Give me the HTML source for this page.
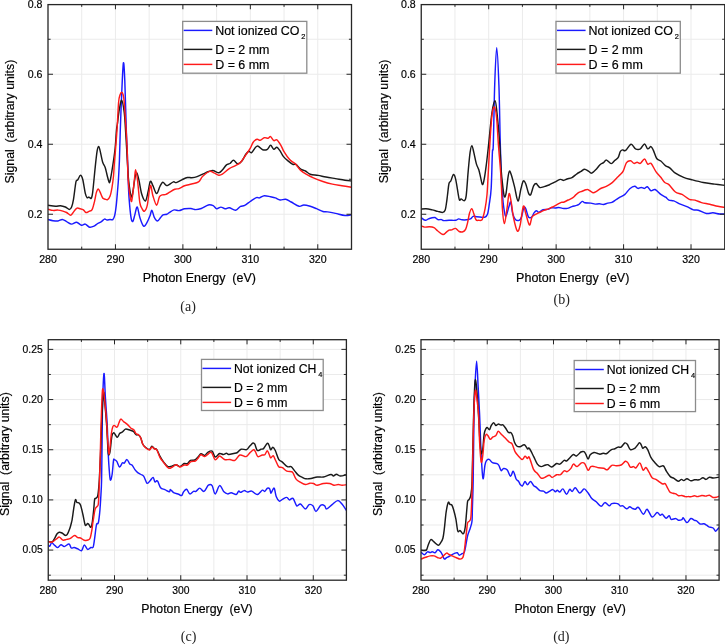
<!DOCTYPE html>
<html><head><meta charset="utf-8"><style>
html,body{margin:0;padding:0;background:#fff;width:725px;height:644px;overflow:hidden}
svg{display:block;will-change:transform}
text{font-family:"Liberation Sans",sans-serif;fill:#000;stroke:#000;stroke-width:0.18px}
.tk{font-size:10.6px}
.ti{font-size:12.5px}
.lg{font-size:12.5px}
.sb{font-size:7.4px}
.cap{font-family:"Liberation Serif",serif;font-size:14px;fill:#222;stroke:none}
</style></head><body>
<svg width="725" height="644" viewBox="0 0 725 644"><defs><clipPath id="clipa"><rect x="48.0" y="4.25" width="303.5" height="245.0"/></clipPath><clipPath id="clipb"><rect x="421.25" y="4.25" width="303.5" height="245.0"/></clipPath><clipPath id="clipc"><rect x="48.25" y="339.35" width="298.15" height="240.85000000000002"/></clipPath><clipPath id="clipd"><rect x="421.0" y="339.35" width="298.1" height="240.85000000000002"/></clipPath></defs>
<path d="M81.72 4.25V249.25M115.44 4.25V249.25M149.17 4.25V249.25M182.89 4.25V249.25M216.61 4.25V249.25M250.33 4.25V249.25M284.06 4.25V249.25M317.78 4.25V249.25M48.00 214.25H351.50M48.00 144.25H351.50M48.00 74.25H351.50M48.00 179.25H351.50M48.00 109.25H351.50M48.00 39.25H351.50" stroke="#ebebeb" stroke-width="1" fill="none"/>
<path d="M48.00 219.50C48.83 219.70 51.33 220.45 53.00 220.70C54.67 220.95 56.45 221.20 58.00 221.00C59.55 220.80 60.87 219.40 62.30 219.50C63.73 219.60 65.05 220.83 66.60 221.60C68.15 222.37 69.93 224.00 71.60 224.10C73.27 224.20 74.95 222.00 76.60 222.20C78.25 222.40 80.05 224.98 81.50 225.30C82.95 225.62 83.95 223.78 85.30 224.10C86.65 224.42 88.15 226.85 89.60 227.20C91.05 227.55 92.65 226.82 94.00 226.20C95.35 225.58 96.47 224.27 97.70 223.50C98.93 222.73 100.27 222.33 101.40 221.60C102.53 220.87 103.57 219.37 104.50 219.10C105.43 218.83 106.07 219.93 107.00 220.00C107.93 220.07 109.13 219.57 110.10 219.50C111.07 219.43 112.03 220.28 112.80 219.60C113.57 218.92 114.12 217.87 114.70 215.40C115.28 212.93 115.82 209.03 116.30 204.80C116.78 200.57 117.25 194.13 117.60 190.00C117.95 185.87 118.10 184.83 118.40 180.00C118.70 175.17 119.08 169.33 119.40 161.00C119.72 152.67 119.92 141.25 120.30 130.00C120.68 118.75 121.18 104.67 121.70 93.50C122.22 82.33 122.88 65.08 123.40 63.00C123.92 60.92 124.32 69.83 124.80 81.00C125.28 92.17 125.90 118.50 126.30 130.00C126.70 141.50 126.88 141.67 127.20 150.00C127.52 158.33 127.88 171.90 128.20 180.00C128.52 188.10 128.63 192.38 129.10 198.60C129.57 204.82 130.38 213.48 131.00 217.30C131.62 221.12 132.18 221.82 132.80 221.50C133.42 221.18 133.97 217.82 134.70 215.40C135.43 212.98 136.35 206.68 137.20 207.00C138.05 207.32 138.73 214.12 139.80 217.30C140.87 220.48 142.35 225.33 143.60 226.10C144.85 226.87 146.22 223.68 147.30 221.90C148.38 220.12 149.33 217.33 150.10 215.40C150.87 213.47 151.20 209.98 151.90 210.30C152.60 210.62 153.37 215.52 154.30 217.30C155.23 219.08 156.42 221.00 157.50 221.00C158.58 221.00 159.87 218.32 160.80 217.30C161.73 216.28 162.10 215.40 163.10 214.90C164.10 214.40 165.78 214.67 166.80 214.30C167.82 213.93 167.98 213.43 169.20 212.70C170.42 211.97 172.47 210.25 174.10 209.90C175.73 209.55 177.25 210.78 179.00 210.60C180.75 210.42 182.62 209.15 184.60 208.80C186.58 208.45 189.05 208.37 190.90 208.50C192.75 208.63 193.97 209.60 195.70 209.60C197.43 209.60 199.20 209.27 201.30 208.50C203.40 207.73 206.32 205.47 208.30 205.00C210.28 204.53 211.80 205.07 213.20 205.70C214.60 206.33 215.42 208.57 216.70 208.80C217.98 209.03 219.50 207.10 220.90 207.10C222.30 207.10 223.70 208.68 225.10 208.80C226.50 208.92 227.55 207.57 229.30 207.80C231.05 208.03 233.73 210.43 235.60 210.20C237.47 209.97 238.98 207.20 240.50 206.40C242.02 205.60 243.08 206.22 244.70 205.40C246.32 204.58 248.27 202.80 250.20 201.50C252.13 200.20 254.75 198.20 256.30 197.60C257.85 197.00 258.17 198.22 259.50 197.90C260.83 197.58 262.45 195.88 264.30 195.70C266.15 195.52 268.77 196.43 270.60 196.80C272.43 197.17 273.72 197.37 275.30 197.90C276.88 198.43 278.38 199.78 280.10 200.00C281.82 200.22 283.75 198.87 285.60 199.20C287.45 199.53 288.95 200.82 291.20 202.00C293.45 203.18 297.00 205.80 299.10 206.30C301.20 206.80 301.95 205.00 303.80 205.00C305.65 205.00 308.08 205.68 310.20 206.30C312.32 206.92 314.38 207.83 316.50 208.70C318.62 209.57 321.05 210.97 322.90 211.50C324.75 212.03 325.50 211.58 327.60 211.90C329.70 212.22 332.60 212.80 335.50 213.40C338.40 214.00 342.33 215.28 345.00 215.50C347.67 215.72 350.42 214.83 351.50 214.70" stroke="#1a1aff" stroke-width="1.45" fill="none" stroke-linejoin="round" clip-path="url(#clipa)"/>
<path d="M48.00 205.30C49.25 205.47 53.43 206.23 55.50 206.30C57.57 206.37 58.75 205.58 60.40 205.70C62.05 205.82 63.90 206.38 65.40 207.00C66.90 207.62 68.37 209.40 69.40 209.40C70.43 209.40 70.92 208.68 71.60 207.00C72.28 205.32 72.88 202.80 73.50 199.30C74.12 195.80 74.85 189.05 75.30 186.00C75.75 182.95 75.78 182.05 76.20 181.00C76.62 179.95 77.08 180.65 77.80 179.70C78.52 178.75 79.67 175.30 80.50 175.30C81.33 175.30 82.00 176.68 82.80 179.70C83.60 182.72 84.58 190.40 85.30 193.40C86.02 196.40 86.48 197.08 87.10 197.70C87.72 198.32 88.32 197.00 89.00 197.10C89.68 197.20 90.58 199.13 91.20 198.30C91.82 197.47 92.03 197.27 92.70 192.10C93.37 186.93 94.47 174.13 95.20 167.30C95.93 160.47 96.52 154.57 97.10 151.10C97.68 147.63 98.18 146.50 98.70 146.50C99.22 146.50 99.53 148.47 100.20 151.10C100.87 153.73 101.88 159.60 102.70 162.30C103.52 165.00 104.38 165.23 105.10 167.30C105.82 169.37 106.37 172.32 107.00 174.70C107.63 177.08 108.38 180.57 108.90 181.60C109.42 182.63 109.45 183.60 110.10 180.90C110.75 178.20 111.97 170.78 112.80 165.40C113.63 160.02 114.48 154.50 115.10 148.60C115.72 142.70 116.12 134.10 116.50 130.00C116.88 125.90 116.93 127.40 117.40 124.00C117.87 120.60 118.58 113.55 119.30 109.60C120.02 105.65 120.88 99.88 121.70 100.30C122.52 100.72 123.57 107.23 124.20 112.10C124.83 116.97 125.00 121.85 125.50 129.50C126.00 137.15 126.68 149.58 127.20 158.00C127.72 166.42 127.90 173.53 128.60 180.00C129.30 186.47 130.62 195.25 131.40 196.80C132.18 198.35 132.77 192.10 133.30 189.30C133.83 186.50 134.05 182.82 134.60 180.00C135.15 177.18 135.88 172.40 136.60 172.40C137.32 172.40 138.05 176.40 138.90 180.00C139.75 183.60 140.62 190.50 141.70 194.00C142.78 197.50 144.32 201.47 145.40 201.00C146.48 200.53 147.38 194.47 148.20 191.20C149.02 187.93 149.52 182.33 150.30 181.40C151.08 180.47 151.85 183.58 152.90 185.60C153.95 187.62 155.43 193.35 156.60 193.50C157.77 193.65 158.88 188.37 159.90 186.50C160.92 184.63 161.70 182.53 162.70 182.30C163.70 182.07 165.05 184.58 165.90 185.10C166.75 185.62 166.55 185.93 167.80 185.40C169.05 184.87 172.00 182.37 173.40 181.90C174.80 181.43 174.80 182.95 176.20 182.60C177.60 182.25 179.93 180.65 181.80 179.80C183.67 178.95 185.77 177.85 187.40 177.50C189.03 177.15 189.98 177.85 191.60 177.70C193.22 177.55 194.78 177.42 197.10 176.60C199.42 175.78 202.93 173.82 205.50 172.80C208.07 171.78 210.28 170.50 212.50 170.50C214.72 170.50 217.17 172.88 218.80 172.80C220.43 172.72 221.02 171.32 222.30 170.00C223.58 168.68 225.22 165.98 226.50 164.90C227.78 163.82 228.83 164.27 230.00 163.50C231.17 162.73 232.22 160.25 233.50 160.30C234.78 160.35 236.30 163.68 237.70 163.80C239.10 163.92 240.52 162.63 241.90 161.00C243.28 159.37 244.85 155.63 246.00 154.00C247.15 152.37 247.87 151.43 248.80 151.20C249.73 150.97 250.22 153.45 251.60 152.60C252.98 151.75 255.25 146.57 257.10 146.10C258.95 145.63 260.98 149.27 262.70 149.80C264.42 150.33 266.08 150.05 267.40 149.30C268.72 148.55 269.53 145.30 270.60 145.30C271.67 145.30 272.75 148.98 273.80 149.30C274.85 149.62 275.85 146.93 276.90 147.20C277.95 147.47 279.03 149.37 280.10 150.90C281.17 152.43 281.98 154.73 283.30 156.40C284.62 158.07 286.42 159.58 288.00 160.90C289.58 162.22 291.48 163.73 292.80 164.30C294.12 164.87 294.58 163.50 295.90 164.30C297.22 165.10 299.12 167.98 300.70 169.10C302.28 170.22 303.82 170.15 305.40 171.00C306.98 171.85 308.08 173.47 310.20 174.20C312.32 174.93 315.47 174.93 318.10 175.40C320.73 175.87 323.10 176.47 326.00 177.00C328.90 177.53 332.33 178.07 335.50 178.60C338.67 179.13 342.33 179.80 345.00 180.20C347.67 180.60 350.42 180.87 351.50 181.00" stroke="#1a1a1a" stroke-width="1.45" fill="none" stroke-linejoin="round" clip-path="url(#clipa)"/>
<path d="M48.00 209.20C48.83 209.40 51.33 210.25 53.00 210.40C54.67 210.55 56.35 209.98 58.00 210.10C59.65 210.22 61.47 210.70 62.90 211.10C64.33 211.50 65.32 211.82 66.60 212.50C67.88 213.18 69.57 215.13 70.60 215.20C71.63 215.27 71.80 214.05 72.80 212.90C73.80 211.75 75.35 208.98 76.60 208.30C77.85 207.62 79.17 208.55 80.30 208.80C81.43 209.05 82.47 209.18 83.40 209.80C84.33 210.42 84.97 212.25 85.90 212.50C86.83 212.75 87.97 211.78 89.00 211.30C90.03 210.82 91.17 211.30 92.10 209.60C93.03 207.90 93.88 203.97 94.60 201.10C95.32 198.23 95.78 194.43 96.40 192.40C97.02 190.37 97.67 188.90 98.30 188.90C98.93 188.90 99.47 190.88 100.20 192.40C100.93 193.92 101.88 196.87 102.70 198.00C103.52 199.13 104.28 198.93 105.10 199.20C105.92 199.47 106.77 200.12 107.60 199.60C108.43 199.08 109.37 198.12 110.10 196.10C110.83 194.08 111.43 190.85 112.00 187.50C112.57 184.15 113.13 179.68 113.50 176.00C113.87 172.32 113.93 168.93 114.20 165.40C114.47 161.87 114.63 160.70 115.10 154.80C115.57 148.90 116.42 138.77 117.00 130.00C117.58 121.23 118.10 108.03 118.60 102.20C119.10 96.37 119.48 96.67 120.00 95.00C120.52 93.33 121.17 92.20 121.70 92.20C122.23 92.20 122.78 93.33 123.20 95.00C123.62 96.67 123.72 96.45 124.20 102.20C124.68 107.95 125.60 121.53 126.10 129.50C126.60 137.47 126.85 141.58 127.20 150.00C127.55 158.42 127.57 171.58 128.20 180.00C128.83 188.42 130.30 197.70 131.00 200.50C131.70 203.30 131.83 200.22 132.40 196.80C132.97 193.38 133.87 184.53 134.40 180.00C134.93 175.47 135.08 169.60 135.60 169.60C136.12 169.60 136.80 174.53 137.50 180.00C138.20 185.47 139.05 197.65 139.80 202.40C140.55 207.15 141.22 207.03 142.00 208.50C142.78 209.97 143.62 211.75 144.50 211.20C145.38 210.65 146.33 209.47 147.30 205.20C148.27 200.93 149.37 187.17 150.30 185.60C151.23 184.03 151.85 192.53 152.90 195.80C153.95 199.07 155.52 205.03 156.60 205.20C157.68 205.37 158.47 198.52 159.40 196.80C160.33 195.08 161.12 195.30 162.20 194.90C163.28 194.50 164.73 194.82 165.90 194.40C167.07 193.98 167.72 193.27 169.20 192.40C170.68 191.53 173.17 189.83 174.80 189.20C176.43 188.57 177.37 189.17 179.00 188.60C180.63 188.03 182.50 186.57 184.60 185.80C186.70 185.03 189.28 184.65 191.60 184.00C193.92 183.35 196.65 183.18 198.50 181.90C200.35 180.62 200.83 178.05 202.70 176.30C204.57 174.55 207.83 171.98 209.70 171.40C211.57 170.82 212.38 172.17 213.90 172.80C215.42 173.43 217.40 174.97 218.80 175.20C220.20 175.43 220.55 175.30 222.30 174.20C224.05 173.10 227.20 169.98 229.30 168.60C231.40 167.22 233.03 166.93 234.90 165.90C236.77 164.87 238.65 164.27 240.50 162.40C242.35 160.53 244.38 157.03 246.00 154.70C247.62 152.37 249.00 150.48 250.20 148.40C251.40 146.32 252.05 143.72 253.20 142.20C254.35 140.68 255.92 139.62 257.10 139.30C258.28 138.98 259.10 140.57 260.30 140.30C261.50 140.03 262.98 138.05 264.30 137.70C265.62 137.35 267.15 138.38 268.20 138.20C269.25 138.02 269.67 136.20 270.60 136.60C271.53 137.00 272.75 140.07 273.80 140.60C274.85 141.13 275.72 139.02 276.90 139.80C278.08 140.58 279.72 143.32 280.90 145.30C282.08 147.28 282.55 149.32 284.00 151.70C285.45 154.08 287.75 157.62 289.60 159.60C291.45 161.58 293.25 161.80 295.10 163.60C296.95 165.40 298.72 168.57 300.70 170.40C302.68 172.23 304.88 173.37 307.00 174.60C309.12 175.83 310.75 176.65 313.40 177.80C316.05 178.95 319.73 180.45 322.90 181.50C326.07 182.55 329.23 183.40 332.40 184.10C335.57 184.80 338.72 185.17 341.90 185.70C345.08 186.23 349.90 187.03 351.50 187.30" stroke="#ff1a1a" stroke-width="1.45" fill="none" stroke-linejoin="round" clip-path="url(#clipa)"/>
<path d="M81.72 249.25v-2.6M81.72 4.25v2.6M115.44 249.25v-5M115.44 4.25v5M149.17 249.25v-2.6M149.17 4.25v2.6M182.89 249.25v-5M182.89 4.25v5M216.61 249.25v-2.6M216.61 4.25v2.6M250.33 249.25v-5M250.33 4.25v5M284.06 249.25v-2.6M284.06 4.25v2.6M317.78 249.25v-5M317.78 4.25v5M48.00 214.25h5M351.50 214.25h-5M48.00 144.25h5M351.50 144.25h-5M48.00 74.25h5M351.50 74.25h-5M48.00 179.25h2.6M351.50 179.25h-2.6M48.00 109.25h2.6M351.50 109.25h-2.6M48.00 39.25h2.6M351.50 39.25h-2.6" stroke="#262626" stroke-width="1" fill="none"/>
<rect x="48.00" y="4.60" width="303.50" height="244.65" stroke="#262626" stroke-width="1.3" fill="none"/>
<text class="tk" style="font-size:10.6px" x="48.00" y="262.85" text-anchor="middle">280</text>
<text class="tk" style="font-size:10.6px" x="115.44" y="262.85" text-anchor="middle">290</text>
<text class="tk" style="font-size:10.6px" x="182.89" y="262.85" text-anchor="middle">300</text>
<text class="tk" style="font-size:10.6px" x="250.33" y="262.85" text-anchor="middle">310</text>
<text class="tk" style="font-size:10.6px" x="317.78" y="262.85" text-anchor="middle">320</text>
<text class="tk" style="font-size:10.6px" x="42.50" y="217.85" text-anchor="end">0.2</text>
<text class="tk" style="font-size:10.6px" x="42.50" y="147.85" text-anchor="end">0.4</text>
<text class="tk" style="font-size:10.6px" x="42.50" y="77.85" text-anchor="end">0.6</text>
<text class="tk" style="font-size:10.6px" x="42.50" y="7.85" text-anchor="end">0.8</text>
<text class="ti" style="font-size:12.5px" x="142.70" y="282.20" xml:space="preserve">Photon Energy  (eV)</text>
<text class="ti" style="font-size:12.3px" transform="translate(14.40 121.60) rotate(-90)" text-anchor="middle" xml:space="preserve">Signal  (arbitrary units)</text>
<text class="cap" x="188.10" y="310.80" text-anchor="middle">(a)</text>
<rect x="182.70" y="21.40" width="124.10" height="51.80" fill="#fff" stroke="#8c8c8c" stroke-width="1.3"/>
<path d="M183.70 30.40H212.30" stroke="#1a1aff" stroke-width="1.45"/>
<text class="lg" style="font-size:12.45px" x="215.20" y="34.60">Not ionized CO<tspan class="sb" dx="1.8" dy="4">2</tspan></text>
<path d="M183.70 49.40H212.30" stroke="#1a1a1a" stroke-width="1.45"/>
<text class="lg" style="font-size:12.45px" x="215.20" y="53.60">D = 2 mm</text>
<path d="M183.70 64.40H212.30" stroke="#ff1a1a" stroke-width="1.45"/>
<text class="lg" style="font-size:12.45px" x="215.20" y="68.60">D = 6 mm</text>
<path d="M454.97 4.25V249.25M488.69 4.25V249.25M522.42 4.25V249.25M556.14 4.25V249.25M589.86 4.25V249.25M623.58 4.25V249.25M657.31 4.25V249.25M691.03 4.25V249.25M421.25 214.25H724.75M421.25 144.25H724.75M421.25 74.25H724.75M421.25 179.25H724.75M421.25 109.25H724.75M421.25 39.25H724.75" stroke="#ebebeb" stroke-width="1" fill="none"/>
<path d="M421.00 217.50C421.70 217.97 423.95 220.07 425.20 220.30C426.45 220.53 427.48 219.28 428.50 218.90C429.52 218.52 430.22 218.23 431.30 218.00C432.38 217.77 433.92 217.23 435.00 217.50C436.08 217.77 436.72 219.25 437.80 219.60C438.88 219.95 440.50 219.43 441.50 219.60C442.50 219.77 442.55 220.48 443.80 220.60C445.05 220.72 447.05 220.35 449.00 220.30C450.95 220.25 453.88 220.53 455.50 220.30C457.12 220.07 457.62 218.98 458.70 218.90C459.78 218.82 460.67 219.65 462.00 219.80C463.33 219.95 465.30 219.95 466.70 219.80C468.10 219.65 469.32 219.47 470.40 218.90C471.48 218.33 472.12 216.75 473.20 216.40C474.28 216.05 475.77 216.70 476.90 216.80C478.03 216.90 478.70 216.93 480.00 217.00C481.30 217.07 483.45 217.67 484.70 217.20C485.95 216.73 486.73 216.40 487.50 214.20C488.27 212.00 488.68 208.37 489.30 204.00C489.92 199.63 490.68 196.60 491.20 188.00C491.72 179.40 492.05 159.63 492.40 152.40C492.75 145.17 492.92 155.83 493.30 144.60C493.68 133.37 494.13 101.15 494.70 85.00C495.27 68.85 496.00 47.70 496.70 47.70C497.40 47.70 498.30 68.85 498.90 85.00C499.50 101.15 499.88 128.77 500.30 144.60C500.72 160.43 501.05 171.93 501.40 180.00C501.75 188.07 502.08 189.00 502.40 193.00C502.72 197.00 502.83 200.30 503.30 204.00C503.77 207.70 504.65 213.42 505.20 215.20C505.75 216.98 505.98 216.10 506.60 214.70C507.22 213.30 508.20 208.90 508.90 206.80C509.60 204.70 510.18 201.02 510.80 202.10C511.42 203.18 511.83 210.42 512.60 213.30C513.37 216.18 514.32 218.23 515.40 219.40C516.48 220.57 518.08 220.70 519.10 220.30C520.12 219.90 520.72 219.10 521.50 217.00C522.28 214.90 523.10 209.10 523.80 207.70C524.50 206.30 524.92 207.05 525.70 208.60C526.48 210.15 527.50 215.60 528.50 217.00C529.50 218.40 530.75 217.73 531.70 217.00C532.65 216.27 533.40 213.63 534.20 212.60C535.00 211.57 535.72 210.87 536.50 210.80C537.28 210.73 537.82 212.37 538.90 212.20C539.98 212.03 541.53 210.27 543.00 209.80C544.47 209.33 546.30 209.73 547.70 209.40C549.10 209.07 550.15 208.03 551.40 207.80C552.65 207.57 553.95 208.05 555.20 208.00C556.45 207.95 557.67 207.43 558.90 207.50C560.13 207.57 561.20 208.25 562.60 208.40C564.00 208.55 565.75 208.70 567.30 208.40C568.85 208.10 570.50 207.07 571.90 206.60C573.30 206.13 574.60 205.92 575.70 205.60C576.80 205.28 577.42 205.40 578.50 204.70C579.58 204.00 581.12 201.72 582.20 201.40C583.28 201.08 583.55 202.52 585.00 202.80C586.45 203.08 589.22 202.88 590.90 203.10C592.58 203.32 593.70 203.98 595.10 204.10C596.50 204.22 597.90 203.73 599.30 203.80C600.70 203.87 602.10 204.62 603.50 204.50C604.90 204.38 606.30 203.45 607.70 203.10C609.10 202.75 610.50 202.97 611.90 202.40C613.30 201.83 614.75 200.57 616.10 199.70C617.45 198.83 618.53 198.08 620.00 197.20C621.47 196.32 623.27 195.82 624.90 194.40C626.53 192.98 628.17 190.05 629.80 188.70C631.43 187.35 633.35 186.35 634.70 186.30C636.05 186.25 636.82 188.22 637.90 188.40C638.98 188.58 640.10 187.40 641.20 187.40C642.30 187.40 643.47 188.52 644.50 188.40C645.53 188.28 646.32 186.32 647.40 186.70C648.48 187.08 649.72 190.23 651.00 190.70C652.28 191.17 653.47 188.88 655.10 189.50C656.73 190.12 659.03 193.12 660.80 194.40C662.57 195.68 664.35 196.25 665.70 197.20C667.05 198.15 667.55 199.48 668.90 200.10C670.25 200.72 671.90 200.22 673.80 200.90C675.70 201.58 678.12 203.25 680.30 204.20C682.48 205.15 684.72 205.65 686.90 206.60C689.08 207.55 691.50 209.30 693.40 209.90C695.30 210.50 696.13 209.60 698.30 210.20C700.47 210.80 703.97 213.07 706.40 213.50C708.83 213.93 710.72 212.72 712.90 212.80C715.08 212.88 717.48 213.80 719.50 214.00C721.52 214.20 724.08 214.00 725.00 214.00" stroke="#1a1aff" stroke-width="1.45" fill="none" stroke-linejoin="round" clip-path="url(#clipb)"/>
<path d="M421.00 209.20C421.83 209.13 424.13 208.68 426.00 208.80C427.87 208.92 430.23 209.47 432.20 209.90C434.17 210.33 436.03 210.98 437.80 211.40C439.57 211.82 441.57 212.63 442.80 212.40C444.03 212.17 444.57 211.72 445.20 210.00C445.83 208.28 446.22 204.60 446.60 202.10C446.98 199.60 447.10 198.10 447.50 195.00C447.90 191.90 448.45 185.83 449.00 183.50C449.55 181.17 450.05 182.50 450.80 181.00C451.55 179.50 452.67 174.70 453.50 174.50C454.33 174.30 455.00 176.43 455.80 179.80C456.60 183.17 457.68 191.30 458.30 194.70C458.92 198.10 459.03 199.50 459.50 200.20C459.97 200.90 460.30 198.83 461.10 198.90C461.90 198.97 463.45 201.15 464.30 200.60C465.15 200.05 465.55 200.52 466.20 195.60C466.85 190.68 467.55 178.30 468.20 171.10C468.85 163.90 469.48 156.65 470.10 152.40C470.72 148.15 471.28 145.60 471.90 145.60C472.52 145.60 473.07 149.40 473.80 152.40C474.53 155.40 475.47 160.70 476.30 163.60C477.13 166.50 478.08 167.52 478.80 169.80C479.52 172.08 480.00 174.83 480.60 177.30C481.20 179.77 481.80 184.30 482.40 184.60C483.00 184.90 483.52 182.65 484.20 179.10C484.88 175.55 485.77 169.05 486.50 163.30C487.23 157.55 487.70 152.98 488.60 144.60C489.50 136.22 490.83 120.30 491.90 113.00C492.97 105.70 494.15 100.80 495.00 100.80C495.85 100.80 496.20 105.70 497.00 113.00C497.80 120.30 499.13 135.43 499.80 144.60C500.47 153.77 500.50 161.00 501.00 168.00C501.50 175.00 502.23 181.82 502.80 186.60C503.37 191.38 503.85 195.62 504.40 196.70C504.95 197.78 505.50 196.33 506.10 193.10C506.70 189.87 507.45 180.95 508.00 177.30C508.55 173.65 508.87 171.67 509.40 171.20C509.93 170.73 510.35 171.93 511.20 174.50C512.05 177.07 513.37 182.18 514.50 186.60C515.63 191.02 516.92 200.68 518.00 201.00C519.08 201.32 520.12 191.83 521.00 188.50C521.88 185.17 522.52 181.78 523.30 181.00C524.08 180.22 524.83 181.78 525.70 183.80C526.57 185.82 527.70 191.23 528.50 193.10C529.30 194.97 529.93 195.32 530.50 195.00C531.07 194.68 531.37 192.77 531.90 191.20C532.43 189.63 533.00 186.88 533.70 185.60C534.40 184.32 535.40 183.50 536.10 183.50C536.80 183.50 537.22 184.92 537.90 185.60C538.58 186.28 539.05 187.47 540.20 187.60C541.35 187.73 543.33 186.83 544.80 186.40C546.27 185.97 547.37 185.70 549.00 185.00C550.63 184.30 552.73 183.13 554.60 182.20C556.47 181.27 558.70 179.70 560.20 179.40C561.70 179.10 562.45 180.47 563.60 180.40C564.75 180.33 565.70 179.47 567.10 179.00C568.50 178.53 570.37 178.47 572.00 177.60C573.63 176.73 575.38 174.83 576.90 173.80C578.42 172.77 579.82 172.17 581.10 171.40C582.38 170.63 583.32 169.20 584.60 169.20C585.88 169.20 587.63 170.75 588.80 171.40C589.97 172.05 590.32 173.52 591.60 173.10C592.88 172.68 595.10 170.30 596.50 168.90C597.90 167.50 598.83 165.75 600.00 164.70C601.17 163.65 602.42 163.37 603.50 162.60C604.58 161.83 605.22 159.93 606.50 160.10C607.78 160.27 609.83 163.53 611.20 163.60C612.57 163.67 613.55 161.48 614.70 160.50C615.85 159.52 617.17 159.20 618.10 157.70C619.03 156.20 619.58 152.80 620.30 151.50C621.02 150.20 621.50 150.08 622.40 149.90C623.30 149.72 624.25 151.33 625.70 150.40C627.15 149.47 629.47 144.57 631.10 144.30C632.73 144.03 633.95 148.05 635.50 148.80C637.05 149.55 638.90 149.62 640.40 148.80C641.90 147.98 643.28 143.90 644.50 143.90C645.72 143.90 646.62 148.35 647.70 148.80C648.78 149.25 650.05 146.33 651.00 146.60C651.95 146.87 652.45 148.42 653.40 150.40C654.35 152.38 655.47 156.73 656.70 158.50C657.93 160.27 659.30 159.77 660.80 161.00C662.30 162.23 664.22 164.77 665.70 165.90C667.18 167.03 668.08 166.58 669.70 167.80C671.32 169.02 673.08 171.62 675.40 173.20C677.72 174.78 680.88 176.22 683.60 177.30C686.32 178.38 688.43 178.83 691.70 179.70C694.97 180.57 699.38 181.77 703.20 182.50C707.02 183.23 711.00 183.62 714.60 184.10C718.20 184.58 723.10 185.18 724.80 185.40" stroke="#1a1a1a" stroke-width="1.45" fill="none" stroke-linejoin="round" clip-path="url(#clipb)"/>
<path d="M421.00 225.90C421.62 226.10 423.30 226.95 424.70 227.10C426.10 227.25 427.85 226.70 429.40 226.80C430.95 226.90 432.60 227.00 434.00 227.70C435.40 228.40 436.32 229.87 437.80 231.00C439.28 232.13 441.50 234.27 442.90 234.50C444.30 234.73 445.18 233.13 446.20 232.40C447.22 231.67 448.07 230.52 449.00 230.10C449.93 229.68 450.72 230.18 451.80 229.90C452.88 229.62 454.27 228.13 455.50 228.40C456.73 228.67 457.97 230.93 459.20 231.50C460.43 232.07 461.82 232.20 462.90 231.80C463.98 231.40 464.92 230.63 465.70 229.10C466.48 227.57 466.97 225.23 467.60 222.60C468.23 219.97 468.80 215.63 469.50 213.30C470.20 210.97 471.10 208.60 471.80 208.60C472.50 208.60 473.00 211.43 473.70 213.30C474.40 215.17 475.15 218.63 476.00 219.80C476.85 220.97 477.88 220.23 478.80 220.30C479.72 220.37 480.83 220.58 481.50 220.20C482.17 219.82 482.20 219.93 482.80 218.00C483.40 216.07 484.40 212.48 485.10 208.60C485.80 204.72 486.50 200.13 487.00 194.70C487.50 189.27 487.63 184.35 488.10 176.00C488.57 167.65 489.17 154.63 489.80 144.60C490.43 134.57 491.13 122.08 491.90 115.80C492.67 109.52 493.62 106.60 494.40 106.90C495.18 107.20 495.93 111.32 496.60 117.60C497.27 123.88 497.67 134.65 498.40 144.60C499.13 154.55 500.33 166.63 501.00 177.30C501.67 187.97 501.83 200.88 502.40 208.60C502.97 216.32 503.63 223.60 504.40 223.60C505.17 223.60 506.22 213.58 507.00 208.60C507.78 203.62 508.40 194.78 509.10 193.70C509.80 192.62 510.45 198.05 511.20 202.10C511.95 206.15 512.58 213.18 513.60 218.00C514.62 222.82 516.22 229.77 517.30 231.00C518.38 232.23 519.10 229.52 520.10 225.40C521.10 221.28 522.37 208.32 523.30 206.30C524.23 204.28 524.68 210.20 525.70 213.30C526.72 216.40 528.37 224.23 529.40 224.90C530.43 225.57 531.18 218.88 531.90 217.30C532.62 215.72 532.47 216.18 533.70 215.40C534.93 214.62 537.58 213.45 539.30 212.60C541.02 211.75 542.45 210.92 544.00 210.30C545.55 209.68 547.20 209.45 548.60 208.90C550.00 208.35 551.00 207.70 552.40 207.00C553.80 206.30 555.53 205.47 557.00 204.70C558.47 203.93 560.10 202.82 561.20 202.40C562.30 201.98 562.43 202.60 563.60 202.20C564.77 201.80 566.65 200.75 568.20 200.00C569.75 199.25 571.65 198.55 572.90 197.70C574.15 196.85 574.77 195.75 575.70 194.90C576.63 194.05 577.42 193.22 578.50 192.60C579.58 191.98 580.97 191.67 582.20 191.20C583.43 190.73 584.92 190.07 585.90 189.80C586.88 189.53 586.92 189.12 588.10 189.60C589.28 190.08 591.60 192.42 593.00 192.70C594.40 192.98 595.22 192.00 596.50 191.30C597.78 190.60 599.07 189.32 600.70 188.50C602.33 187.68 604.43 187.33 606.30 186.40C608.17 185.47 610.05 184.42 611.90 182.90C613.75 181.38 616.05 178.65 617.40 177.30C618.75 175.95 619.02 175.88 620.00 174.80C620.98 173.72 622.22 172.83 623.30 170.80C624.38 168.77 625.28 164.28 626.50 162.60C627.72 160.92 629.37 160.57 630.60 160.70C631.83 160.83 632.82 163.13 633.90 163.40C634.98 163.67 636.02 162.30 637.10 162.30C638.18 162.30 639.17 163.95 640.40 163.40C641.63 162.85 643.28 158.87 644.50 159.00C645.72 159.13 646.62 163.47 647.70 164.20C648.78 164.93 649.63 162.17 651.00 163.40C652.37 164.63 654.27 169.28 655.90 171.60C657.53 173.92 659.32 175.48 660.80 177.30C662.28 179.12 663.45 181.28 664.80 182.50C666.15 183.72 667.13 183.02 668.90 184.60C670.67 186.18 673.22 190.37 675.40 192.00C677.58 193.63 679.68 193.18 682.00 194.40C684.32 195.62 687.13 198.35 689.30 199.30C691.47 200.25 692.97 199.55 695.00 200.10C697.03 200.65 699.05 201.92 701.50 202.60C703.95 203.28 706.98 203.58 709.70 204.20C712.42 204.82 715.25 205.77 717.80 206.30C720.35 206.83 723.80 207.22 725.00 207.40" stroke="#ff1a1a" stroke-width="1.45" fill="none" stroke-linejoin="round" clip-path="url(#clipb)"/>
<path d="M454.97 249.25v-2.6M454.97 4.25v2.6M488.69 249.25v-5M488.69 4.25v5M522.42 249.25v-2.6M522.42 4.25v2.6M556.14 249.25v-5M556.14 4.25v5M589.86 249.25v-2.6M589.86 4.25v2.6M623.58 249.25v-5M623.58 4.25v5M657.31 249.25v-2.6M657.31 4.25v2.6M691.03 249.25v-5M691.03 4.25v5M421.25 214.25h5M724.75 214.25h-5M421.25 144.25h5M724.75 144.25h-5M421.25 74.25h5M724.75 74.25h-5M421.25 179.25h2.6M724.75 179.25h-2.6M421.25 109.25h2.6M724.75 109.25h-2.6M421.25 39.25h2.6M724.75 39.25h-2.6" stroke="#262626" stroke-width="1" fill="none"/>
<rect x="421.25" y="4.60" width="303.50" height="244.65" stroke="#262626" stroke-width="1.3" fill="none"/>
<text class="tk" style="font-size:10.6px" x="421.25" y="262.85" text-anchor="middle">280</text>
<text class="tk" style="font-size:10.6px" x="488.69" y="262.85" text-anchor="middle">290</text>
<text class="tk" style="font-size:10.6px" x="556.14" y="262.85" text-anchor="middle">300</text>
<text class="tk" style="font-size:10.6px" x="623.58" y="262.85" text-anchor="middle">310</text>
<text class="tk" style="font-size:10.6px" x="691.03" y="262.85" text-anchor="middle">320</text>
<text class="tk" style="font-size:10.6px" x="415.75" y="217.85" text-anchor="end">0.2</text>
<text class="tk" style="font-size:10.6px" x="415.75" y="147.85" text-anchor="end">0.4</text>
<text class="tk" style="font-size:10.6px" x="415.75" y="77.85" text-anchor="end">0.6</text>
<text class="tk" style="font-size:10.6px" x="415.75" y="7.85" text-anchor="end">0.8</text>
<text class="ti" style="font-size:12.5px" x="516.10" y="282.20" xml:space="preserve">Photon Energy  (eV)</text>
<text class="ti" style="font-size:12.3px" transform="translate(387.90 121.45) rotate(-90)" text-anchor="middle" xml:space="preserve">Signal  (arbitrary units)</text>
<text class="cap" x="561.70" y="304.20" text-anchor="middle">(b)</text>
<rect x="556.00" y="21.40" width="124.30" height="51.80" fill="#fff" stroke="#8c8c8c" stroke-width="1.3"/>
<path d="M557.00 30.40H585.60" stroke="#1a1aff" stroke-width="1.45"/>
<text class="lg" style="font-size:12.45px" x="588.50" y="34.60">Not ionized CO<tspan class="sb" dx="1.8" dy="4">2</tspan></text>
<path d="M557.00 49.40H585.60" stroke="#1a1a1a" stroke-width="1.45"/>
<text class="lg" style="font-size:12.45px" x="588.50" y="53.60">D = 2 mm</text>
<path d="M557.00 64.40H585.60" stroke="#ff1a1a" stroke-width="1.45"/>
<text class="lg" style="font-size:12.45px" x="588.50" y="68.60">D = 6 mm</text>
<path d="M81.38 339.35V580.20M114.51 339.35V580.20M147.63 339.35V580.20M180.76 339.35V580.20M213.89 339.35V580.20M247.02 339.35V580.20M280.14 339.35V580.20M313.27 339.35V580.20M48.25 550.09H346.40M48.25 499.92H346.40M48.25 449.74H346.40M48.25 399.56H346.40M48.25 349.39H346.40M48.25 575.18H346.40M48.25 525.01H346.40M48.25 474.83H346.40M48.25 424.65H346.40M48.25 374.47H346.40" stroke="#ebebeb" stroke-width="1" fill="none"/>
<path d="M48.00 545.00C48.32 545.18 49.28 546.47 49.90 546.10C50.52 545.73 50.85 542.88 51.70 542.80C52.55 542.72 53.98 544.82 55.00 545.60C56.02 546.38 56.80 547.65 57.80 547.50C58.80 547.35 59.92 544.85 61.00 544.70C62.08 544.55 62.97 546.72 64.30 546.60C65.63 546.48 67.83 543.77 69.00 544.00C70.17 544.23 70.45 547.42 71.30 548.00C72.15 548.58 73.02 547.35 74.10 547.50C75.18 547.65 76.55 548.38 77.80 548.90C79.05 549.42 80.52 551.25 81.60 550.60C82.68 549.95 83.30 545.20 84.30 545.00C85.30 544.80 86.50 548.98 87.60 549.40C88.70 549.82 89.97 547.90 90.90 547.50C91.83 547.10 92.58 548.48 93.20 547.00C93.82 545.52 94.05 542.32 94.60 538.60C95.15 534.88 95.88 527.32 96.50 524.70C97.12 522.08 97.77 524.92 98.30 522.90C98.83 520.88 99.30 516.65 99.70 512.60C100.10 508.55 100.38 504.03 100.70 498.60C101.02 493.17 101.37 489.77 101.60 480.00C101.83 470.23 101.93 452.95 102.10 440.00C102.27 427.05 102.28 413.40 102.60 402.30C102.92 391.20 103.53 374.18 104.00 373.40C104.47 372.62 104.87 389.07 105.40 397.60C105.93 406.13 106.72 415.03 107.20 424.60C107.68 434.17 107.95 447.30 108.30 455.00C108.65 462.70 108.95 466.62 109.30 470.80C109.65 474.98 109.93 479.48 110.40 480.10C110.87 480.72 111.58 477.77 112.10 474.50C112.62 471.23 113.12 462.98 113.50 460.50C113.88 458.02 113.85 459.45 114.40 459.60C114.95 459.75 115.93 460.17 116.80 461.40C117.67 462.63 118.67 466.77 119.60 467.00C120.53 467.23 121.63 463.45 122.40 462.80C123.17 462.15 123.43 463.63 124.20 463.10C124.97 462.57 126.07 459.45 127.00 459.60C127.93 459.75 128.93 463.07 129.80 464.00C130.67 464.93 131.35 464.27 132.20 465.20C133.05 466.13 133.98 468.37 134.90 469.60C135.82 470.83 136.68 471.78 137.70 472.60C138.72 473.42 139.98 473.88 141.00 474.50C142.02 475.12 142.78 474.83 143.80 476.30C144.82 477.77 146.02 482.60 147.10 483.30C148.18 484.00 149.30 481.48 150.30 480.50C151.30 479.52 152.32 477.17 153.10 477.40C153.88 477.63 154.27 481.32 155.00 481.90C155.73 482.48 156.57 479.93 157.50 480.90C158.43 481.87 159.37 486.25 160.60 487.70C161.83 489.15 163.45 488.92 164.90 489.60C166.35 490.28 168.37 491.80 169.30 491.80C170.23 491.80 169.78 489.45 170.50 489.60C171.22 489.75 172.25 491.92 173.60 492.70C174.95 493.48 177.25 493.83 178.60 494.30C179.95 494.77 180.88 495.88 181.70 495.50C182.52 495.12 182.68 493.03 183.50 492.00C184.32 490.97 185.55 488.98 186.60 489.30C187.65 489.62 188.65 493.55 189.80 493.90C190.95 494.25 192.47 491.82 193.50 491.40C194.53 490.98 194.97 491.95 196.00 491.40C197.03 490.85 198.37 488.10 199.70 488.10C201.03 488.10 202.55 491.88 204.00 491.40C205.45 490.92 207.05 486.17 208.40 485.20C209.75 484.23 210.97 484.15 212.10 485.60C213.23 487.05 213.95 493.90 215.20 493.90C216.45 493.90 218.15 485.95 219.60 485.60C221.05 485.25 222.57 490.42 223.90 491.80C225.23 493.18 226.38 493.75 227.60 493.90C228.82 494.05 229.77 492.60 231.20 492.70C232.63 492.80 234.95 494.77 236.20 494.50C237.45 494.23 237.98 491.47 238.70 491.10C239.42 490.73 239.57 492.38 240.50 492.30C241.43 492.22 243.15 490.65 244.30 490.60C245.45 490.55 246.17 491.92 247.40 492.00C248.63 492.08 250.05 490.68 251.70 491.10C253.35 491.52 255.53 494.65 257.30 494.50C259.07 494.35 261.05 490.72 262.30 490.20C263.55 489.68 263.93 491.75 264.80 491.40C265.67 491.05 266.68 488.52 267.50 488.10C268.32 487.68 269.12 488.03 269.70 488.90C270.28 489.77 270.48 493.18 271.00 493.30C271.52 493.42 272.23 490.38 272.80 489.60C273.37 488.82 273.83 487.45 274.40 488.60C274.97 489.75 275.38 494.42 276.20 496.50C277.02 498.58 278.27 500.62 279.30 501.10C280.33 501.58 281.15 500.02 282.40 499.40C283.65 498.78 285.65 497.32 286.80 497.40C287.95 497.48 288.27 499.73 289.30 499.90C290.33 500.07 291.77 497.42 293.00 498.40C294.23 499.38 295.47 504.87 296.70 505.80C297.93 506.73 298.95 503.48 300.40 504.00C301.85 504.52 303.95 508.80 305.40 508.90C306.85 509.00 307.85 505.12 309.10 504.60C310.35 504.08 311.75 504.67 312.90 505.80C314.05 506.93 314.67 511.50 316.00 511.40C317.33 511.30 319.45 506.13 320.90 505.20C322.35 504.27 323.77 505.18 324.70 505.80C325.63 506.42 325.27 509.10 326.50 508.90C327.73 508.70 330.23 505.98 332.10 504.60C333.97 503.22 336.05 500.70 337.70 500.60C339.35 500.50 340.55 502.35 342.00 504.00C343.45 505.65 345.67 509.42 346.40 510.50" stroke="#1a1aff" stroke-width="1.45" fill="none" stroke-linejoin="round" clip-path="url(#clipc)"/>
<path d="M48.00 541.40C48.70 541.48 51.12 542.37 52.20 541.90C53.28 541.43 53.72 539.92 54.50 538.60C55.28 537.28 56.12 535.07 56.90 534.00C57.68 532.93 58.35 532.37 59.20 532.20C60.05 532.03 61.00 532.48 62.00 533.00C63.00 533.52 64.35 535.03 65.20 535.30C66.05 535.57 66.33 535.73 67.10 534.60C67.87 533.47 69.05 530.60 69.80 528.50C70.55 526.40 71.20 523.57 71.60 522.00C72.00 520.43 71.78 521.75 72.20 519.10C72.62 516.45 73.55 509.35 74.10 506.10C74.65 502.85 75.03 500.22 75.50 499.60C75.97 498.98 76.35 501.87 76.90 502.40C77.45 502.93 78.18 502.33 78.80 502.80C79.42 503.27 79.92 503.25 80.60 505.20C81.28 507.15 82.17 511.28 82.90 514.50C83.63 517.72 84.45 522.75 85.00 524.50C85.55 526.25 85.77 525.17 86.20 525.00C86.63 524.83 87.13 523.55 87.60 523.50C88.07 523.45 88.45 524.07 89.00 524.70C89.55 525.33 90.35 527.75 90.90 527.30C91.45 526.85 91.83 524.92 92.30 522.00C92.77 519.08 93.32 513.53 93.70 509.80C94.08 506.07 94.30 501.47 94.60 499.60C94.90 497.73 95.03 499.07 95.50 498.60C95.97 498.13 96.93 497.88 97.40 496.80C97.87 495.72 97.98 494.90 98.30 492.10C98.62 489.30 98.93 486.18 99.30 480.00C99.67 473.82 100.08 465.00 100.50 455.00C100.92 445.00 101.30 430.33 101.80 420.00C102.30 409.67 103.02 396.00 103.50 393.00C103.98 390.00 104.18 396.67 104.70 402.00C105.22 407.33 106.05 417.00 106.60 425.00C107.15 433.00 107.67 445.05 108.00 450.00C108.33 454.95 108.27 454.38 108.60 454.70C108.93 455.02 109.45 455.00 110.00 451.90C110.55 448.80 111.27 439.28 111.90 436.10C112.53 432.92 113.18 432.95 113.80 432.80C114.42 432.65 114.98 434.47 115.60 435.20C116.22 435.93 116.80 437.52 117.50 437.20C118.20 436.88 119.02 434.13 119.80 433.30C120.58 432.47 121.27 432.90 122.20 432.20C123.13 431.50 124.25 429.50 125.40 429.10C126.55 428.70 127.78 429.42 129.10 429.80C130.42 430.18 132.13 430.58 133.30 431.40C134.47 432.22 135.23 434.10 136.10 434.70C136.97 435.30 137.72 434.45 138.50 435.00C139.28 435.55 140.10 436.50 140.80 438.00C141.50 439.50 141.88 442.42 142.70 444.00C143.52 445.58 144.58 446.58 145.70 447.50C146.82 448.42 148.37 449.70 149.40 449.50C150.43 449.30 151.08 446.45 151.90 446.30C152.72 446.15 153.48 448.05 154.30 448.60C155.12 449.15 155.87 448.37 156.80 449.60C157.73 450.83 158.75 453.90 159.90 456.00C161.05 458.10 162.35 460.43 163.70 462.20C165.05 463.97 166.67 465.93 168.00 466.60C169.33 467.27 170.35 466.52 171.70 466.20C173.05 465.88 174.75 464.63 176.10 464.70C177.45 464.77 178.45 466.80 179.80 466.60C181.15 466.40 182.95 463.98 184.20 463.50C185.45 463.02 186.27 464.22 187.30 463.70C188.33 463.18 189.17 461.02 190.40 460.40C191.63 459.78 193.47 460.52 194.70 460.00C195.93 459.48 196.77 458.33 197.80 457.30C198.83 456.27 199.75 454.12 200.90 453.80C202.05 453.48 203.55 455.65 204.70 455.40C205.85 455.15 206.57 453.02 207.80 452.30C209.03 451.58 210.87 450.32 212.10 451.10C213.33 451.88 213.95 456.60 215.20 457.00C216.45 457.40 218.25 453.92 219.60 453.50C220.95 453.08 222.17 454.53 223.30 454.50C224.43 454.47 225.50 453.30 226.40 453.30C227.30 453.30 227.48 454.47 228.70 454.50C229.92 454.53 232.25 453.83 233.70 453.50C235.15 453.17 236.17 453.22 237.40 452.50C238.63 451.78 239.55 449.68 241.10 449.20C242.65 448.72 245.25 450.12 246.70 449.60C248.15 449.08 248.75 447.20 249.80 446.10C250.85 445.00 252.17 443.32 253.00 443.00C253.83 442.68 254.08 442.97 254.80 444.20C255.52 445.43 256.27 449.57 257.30 450.40C258.33 451.23 259.97 449.50 261.00 449.20C262.03 448.90 262.47 449.57 263.50 448.60C264.53 447.63 266.27 443.92 267.20 443.40C268.13 442.88 268.52 444.43 269.10 445.50C269.68 446.57 270.08 449.50 270.70 449.80C271.32 450.10 272.03 447.18 272.80 447.30C273.57 447.42 274.32 448.50 275.30 450.50C276.28 452.50 277.52 457.37 278.70 459.30C279.88 461.23 280.95 460.87 282.40 462.10C283.85 463.33 285.95 465.93 287.40 466.70C288.85 467.47 289.87 465.97 291.10 466.70C292.33 467.43 293.55 469.65 294.80 471.10C296.05 472.55 297.35 474.37 298.60 475.40C299.85 476.43 301.07 476.73 302.30 477.30C303.53 477.87 304.55 478.60 306.00 478.80C307.45 479.00 309.13 478.80 311.00 478.50C312.87 478.20 315.13 477.25 317.20 477.00C319.27 476.75 321.12 477.42 323.40 477.00C325.68 476.58 329.23 474.67 330.90 474.50C332.57 474.33 332.47 476.05 333.40 476.00C334.33 475.95 335.37 474.20 336.50 474.20C337.63 474.20 338.55 475.90 340.20 476.00C341.85 476.10 345.37 475.00 346.40 474.80" stroke="#1a1a1a" stroke-width="1.45" fill="none" stroke-linejoin="round" clip-path="url(#clipc)"/>
<path d="M48.00 541.60C48.62 541.70 50.62 542.38 51.70 542.20C52.78 542.02 53.63 541.10 54.50 540.50C55.37 539.90 56.08 539.17 56.90 538.60C57.72 538.03 58.40 536.85 59.40 537.10C60.40 537.35 61.70 539.72 62.90 540.10C64.10 540.48 65.35 539.68 66.60 539.40C67.85 539.12 69.07 539.05 70.40 538.40C71.73 537.75 73.37 535.63 74.60 535.50C75.83 535.37 76.80 537.18 77.80 537.60C78.80 538.02 79.52 537.57 80.60 538.00C81.68 538.43 83.05 539.87 84.30 540.20C85.55 540.53 87.12 540.37 88.10 540.00C89.08 539.63 89.58 539.58 90.20 538.00C90.82 536.42 91.38 532.88 91.80 530.50C92.22 528.12 92.38 525.90 92.70 523.70C93.02 521.50 93.30 519.68 93.70 517.30C94.10 514.92 94.57 511.18 95.10 509.40C95.63 507.62 96.37 507.47 96.90 506.60C97.43 505.73 97.93 507.08 98.30 504.20C98.67 501.32 98.87 494.17 99.10 489.30C99.33 484.43 99.48 481.55 99.70 475.00C99.92 468.45 100.15 459.17 100.40 450.00C100.65 440.83 100.83 430.10 101.20 420.00C101.57 409.90 101.98 392.35 102.60 389.40C103.22 386.45 104.20 396.43 104.90 402.30C105.60 408.17 106.42 419.43 106.80 424.60C107.18 429.77 106.88 428.65 107.20 433.30C107.52 437.95 108.30 449.55 108.70 452.50C109.10 455.45 109.15 454.20 109.60 451.00C110.05 447.80 110.87 437.33 111.40 433.30C111.93 429.27 112.33 428.12 112.80 426.80C113.27 425.48 113.50 425.33 114.20 425.40C114.90 425.47 116.22 427.60 117.00 427.20C117.78 426.80 118.27 424.35 118.90 423.00C119.53 421.65 120.02 419.33 120.80 419.10C121.58 418.87 122.52 420.72 123.60 421.60C124.68 422.48 126.07 423.30 127.30 424.40C128.53 425.50 129.92 427.30 131.00 428.20C132.08 429.10 132.95 428.87 133.80 429.80C134.65 430.73 135.32 432.98 136.10 433.80C136.88 434.62 137.72 434.00 138.50 434.70C139.28 435.40 140.10 436.45 140.80 438.00C141.50 439.55 141.95 442.42 142.70 444.00C143.45 445.58 144.18 446.50 145.30 447.50C146.42 448.50 148.30 450.07 149.40 450.00C150.50 449.93 151.08 447.30 151.90 447.10C152.72 446.90 153.48 448.35 154.30 448.80C155.12 449.25 155.87 448.38 156.80 449.80C157.73 451.22 158.75 455.18 159.90 457.30C161.05 459.42 162.25 460.68 163.70 462.50C165.15 464.32 167.15 467.45 168.60 468.20C170.05 468.95 171.15 467.58 172.40 467.00C173.65 466.42 174.87 464.70 176.10 464.70C177.33 464.70 178.45 466.95 179.80 467.00C181.15 467.05 182.95 465.33 184.20 465.00C185.45 464.67 186.17 465.57 187.30 465.00C188.43 464.43 189.67 462.27 191.00 461.60C192.33 460.93 194.17 461.52 195.30 461.00C196.43 460.48 196.87 459.53 197.80 458.50C198.73 457.47 199.75 455.12 200.90 454.80C202.05 454.48 203.45 456.77 204.70 456.60C205.95 456.43 207.27 454.48 208.40 453.80C209.53 453.12 210.37 451.50 211.50 452.50C212.63 453.50 213.85 459.22 215.20 459.80C216.55 460.38 218.05 456.05 219.60 456.00C221.15 455.95 222.77 458.92 224.50 459.50C226.23 460.08 228.27 459.35 230.00 459.50C231.73 459.65 233.25 461.15 234.90 460.40C236.55 459.65 238.03 455.63 239.90 455.00C241.77 454.37 244.45 456.95 246.10 456.60C247.75 456.25 248.55 454.03 249.80 452.90C251.05 451.77 252.67 450.00 253.60 449.80C254.53 449.60 254.68 450.57 255.40 451.70C256.12 452.83 256.75 456.05 257.90 456.60C259.05 457.15 261.15 455.30 262.30 455.00C263.45 454.70 263.98 455.50 264.80 454.80C265.62 454.10 266.48 450.90 267.20 450.80C267.92 450.70 268.52 453.02 269.10 454.20C269.68 455.38 270.02 457.65 270.70 457.90C271.38 458.15 272.38 455.27 273.20 455.70C274.02 456.13 274.68 458.67 275.60 460.50C276.52 462.33 277.57 465.52 278.70 466.70C279.83 467.88 281.05 466.87 282.40 467.60C283.75 468.33 285.25 470.42 286.80 471.10C288.35 471.78 290.62 471.32 291.70 471.70C292.78 472.08 292.57 472.17 293.30 473.40C294.03 474.63 294.92 477.63 296.10 479.10C297.28 480.57 298.85 481.30 300.40 482.20C301.95 483.10 303.83 484.33 305.40 484.50C306.97 484.67 308.45 483.37 309.80 483.20C311.15 483.03 312.27 483.15 313.50 483.50C314.73 483.85 315.55 485.30 317.20 485.30C318.85 485.30 321.33 483.80 323.40 483.50C325.47 483.20 327.83 483.20 329.60 483.50C331.37 483.80 332.55 485.13 334.00 485.30C335.45 485.47 336.97 484.50 338.30 484.50C339.63 484.50 340.65 485.27 342.00 485.30C343.35 485.33 345.67 484.80 346.40 484.70" stroke="#ff1a1a" stroke-width="1.45" fill="none" stroke-linejoin="round" clip-path="url(#clipc)"/>
<path d="M81.38 580.20v-2.6M81.38 339.35v2.6M114.51 580.20v-5M114.51 339.35v5M147.63 580.20v-2.6M147.63 339.35v2.6M180.76 580.20v-5M180.76 339.35v5M213.89 580.20v-2.6M213.89 339.35v2.6M247.02 580.20v-5M247.02 339.35v5M280.14 580.20v-2.6M280.14 339.35v2.6M313.27 580.20v-5M313.27 339.35v5M48.25 550.09h5M346.40 550.09h-5M48.25 499.92h5M346.40 499.92h-5M48.25 449.74h5M346.40 449.74h-5M48.25 399.56h5M346.40 399.56h-5M48.25 349.39h5M346.40 349.39h-5M48.25 575.18h2.6M346.40 575.18h-2.6M48.25 525.01h2.6M346.40 525.01h-2.6M48.25 474.83h2.6M346.40 474.83h-2.6M48.25 424.65h2.6M346.40 424.65h-2.6M48.25 374.47h2.6M346.40 374.47h-2.6" stroke="#262626" stroke-width="1" fill="none"/>
<rect x="48.25" y="339.70" width="298.15" height="240.50" stroke="#262626" stroke-width="1.3" fill="none"/>
<text class="tk" style="font-size:10.35px" x="48.25" y="594.00" text-anchor="middle">280</text>
<text class="tk" style="font-size:10.35px" x="114.51" y="594.00" text-anchor="middle">290</text>
<text class="tk" style="font-size:10.35px" x="180.76" y="594.00" text-anchor="middle">300</text>
<text class="tk" style="font-size:10.35px" x="247.02" y="594.00" text-anchor="middle">310</text>
<text class="tk" style="font-size:10.35px" x="313.27" y="594.00" text-anchor="middle">320</text>
<text class="tk" style="font-size:10.35px" x="42.75" y="553.29" text-anchor="end">0.05</text>
<text class="tk" style="font-size:10.35px" x="42.75" y="503.12" text-anchor="end">0.10</text>
<text class="tk" style="font-size:10.35px" x="42.75" y="452.94" text-anchor="end">0.15</text>
<text class="tk" style="font-size:10.35px" x="42.75" y="402.76" text-anchor="end">0.20</text>
<text class="tk" style="font-size:10.35px" x="42.75" y="352.59" text-anchor="end">0.25</text>
<text class="ti" style="font-size:12.3px" x="141.30" y="612.70" xml:space="preserve">Photon Energy  (eV)</text>
<text class="ti" style="font-size:12.3px" transform="translate(9.30 454.10) rotate(-90)" text-anchor="middle" xml:space="preserve">Signal  (arbitrary units)</text>
<text class="cap" x="188.60" y="640.80" text-anchor="middle">(c)</text>
<rect x="201.50" y="359.40" width="121.70" height="51.10" fill="#fff" stroke="#8c8c8c" stroke-width="1.3"/>
<path d="M202.50 368.40H231.10" stroke="#1a1aff" stroke-width="1.45"/>
<text class="lg" style="font-size:12.25px" x="234.00" y="372.60">Not ionized CH<tspan class="sb" dx="1.8" dy="4">4</tspan></text>
<path d="M202.50 387.40H231.10" stroke="#1a1a1a" stroke-width="1.45"/>
<text class="lg" style="font-size:12.25px" x="234.00" y="391.60">D = 2 mm</text>
<path d="M202.50 402.40H231.10" stroke="#ff1a1a" stroke-width="1.45"/>
<text class="lg" style="font-size:12.25px" x="234.00" y="406.60">D = 6 mm</text>
<path d="M454.12 339.35V580.20M487.24 339.35V580.20M520.37 339.35V580.20M553.49 339.35V580.20M586.61 339.35V580.20M619.73 339.35V580.20M652.86 339.35V580.20M685.98 339.35V580.20M421.00 550.09H719.10M421.00 499.92H719.10M421.00 449.74H719.10M421.00 399.56H719.10M421.00 349.39H719.10M421.00 575.18H719.10M421.00 525.01H719.10M421.00 474.83H719.10M421.00 424.65H719.10M421.00 374.47H719.10" stroke="#ebebeb" stroke-width="1" fill="none"/>
<path d="M421.00 552.20C421.55 552.62 423.22 554.75 424.30 554.70C425.38 554.65 426.50 552.25 427.50 551.90C428.50 551.55 429.52 552.63 430.30 552.60C431.08 552.57 431.42 551.67 432.20 551.70C432.98 551.73 434.07 553.12 435.00 552.80C435.93 552.48 436.87 549.98 437.80 549.80C438.73 549.62 439.83 550.85 440.60 551.70C441.37 552.55 441.78 553.68 442.40 554.90C443.02 556.12 443.60 558.53 444.30 559.00C445.00 559.47 445.82 558.12 446.60 557.70C447.38 557.28 448.13 556.97 449.00 556.50C449.87 556.03 450.87 555.42 451.80 554.90C452.73 554.38 453.68 553.75 454.60 553.40C455.52 553.05 456.53 552.50 457.30 552.80C458.07 553.10 458.42 555.05 459.20 555.20C459.98 555.35 461.15 554.20 462.00 553.70C462.85 553.20 463.68 553.47 464.30 552.20C464.92 550.93 465.15 548.83 465.70 546.10C466.25 543.37 466.90 538.60 467.60 535.80C468.30 533.00 469.28 531.15 469.90 529.30C470.52 527.45 470.93 526.25 471.30 524.70C471.67 523.15 471.92 522.78 472.10 520.00C472.28 517.22 472.22 514.67 472.40 508.00C472.58 501.33 472.93 495.57 473.20 480.00C473.47 464.43 473.72 430.00 474.00 414.60C474.28 399.20 474.47 396.52 474.90 387.60C475.33 378.68 476.05 361.10 476.60 361.10C477.15 361.10 477.70 378.68 478.20 387.60C478.70 396.52 479.10 403.37 479.60 414.60C480.10 425.83 480.63 444.33 481.20 455.00C481.77 465.67 482.38 476.85 483.00 478.60C483.62 480.35 484.35 468.47 484.90 465.50C485.45 462.53 485.60 461.82 486.30 460.80C487.00 459.78 488.08 459.08 489.10 459.40C490.12 459.72 491.08 462.00 492.40 462.70C493.72 463.40 495.92 463.13 497.00 463.60C498.08 464.07 498.20 464.33 498.90 465.50C499.60 466.67 500.42 470.10 501.20 470.60C501.98 471.10 502.58 468.60 503.60 468.50C504.62 468.40 506.15 468.72 507.30 470.00C508.45 471.28 509.50 475.98 510.50 476.20C511.50 476.42 512.37 470.83 513.30 471.30C514.23 471.77 515.23 477.35 516.10 479.00C516.97 480.65 517.80 480.28 518.50 481.20C519.20 482.12 519.63 483.73 520.30 484.50C520.97 485.27 521.72 486.30 522.50 485.80C523.28 485.30 524.17 481.67 525.00 481.50C525.83 481.33 526.57 484.80 527.50 484.80C528.43 484.80 529.57 481.33 530.60 481.50C531.63 481.67 532.78 484.87 533.70 485.80C534.62 486.73 535.07 486.30 536.10 487.10C537.13 487.90 538.65 489.93 539.90 490.60C541.15 491.27 542.57 490.70 543.60 491.10C544.63 491.50 545.07 493.00 546.10 493.00C547.13 493.00 548.67 491.67 549.80 491.10C550.93 490.53 551.97 489.48 552.90 489.60C553.83 489.72 554.67 491.70 555.40 491.80C556.13 491.90 556.57 490.17 557.30 490.20C558.03 490.23 558.87 492.22 559.80 492.00C560.73 491.78 561.77 488.52 562.90 488.90C564.03 489.28 565.47 494.23 566.60 494.30C567.73 494.37 568.77 489.78 569.70 489.30C570.63 488.82 571.27 491.67 572.20 491.40C573.13 491.13 574.07 487.43 575.30 487.70C576.53 487.97 578.15 492.80 579.60 493.00C581.05 493.20 582.85 489.23 584.00 488.90C585.15 488.57 585.75 490.23 586.50 491.00C587.25 491.77 587.62 492.23 588.50 493.50C589.38 494.77 590.52 497.23 591.80 498.60C593.08 499.97 594.65 500.42 596.20 501.70C597.75 502.98 599.65 506.15 601.10 506.30C602.55 506.45 603.55 502.68 604.90 502.60C606.25 502.52 608.07 505.63 609.20 505.80C610.33 505.97 610.55 504.00 611.70 503.60C612.85 503.20 614.97 503.30 616.10 503.40C617.23 503.50 617.78 503.75 618.50 504.20C619.22 504.65 619.67 505.83 620.40 506.10C621.13 506.37 621.87 505.35 622.90 505.80C623.93 506.25 625.47 508.65 626.60 508.80C627.73 508.95 628.77 506.78 629.70 506.70C630.63 506.62 631.27 507.88 632.20 508.30C633.13 508.72 634.27 509.37 635.30 509.20C636.33 509.03 637.05 506.47 638.40 507.30C639.75 508.13 641.95 513.88 643.40 514.20C644.85 514.52 645.65 508.73 647.10 509.20C648.55 509.67 650.45 516.45 652.10 517.00C653.75 517.55 655.65 512.80 657.00 512.50C658.35 512.20 659.32 514.92 660.20 515.20C661.08 515.48 661.32 513.70 662.30 514.20C663.28 514.70 664.93 517.95 666.10 518.20C667.27 518.45 668.45 515.50 669.30 515.70C670.15 515.90 670.12 518.92 671.20 519.40C672.28 519.88 674.57 518.45 675.80 518.60C677.03 518.75 677.58 520.13 678.60 520.30C679.62 520.47 681.12 520.00 681.90 519.60C682.68 519.20 682.45 517.40 683.30 517.90C684.15 518.40 685.75 522.50 687.00 522.60C688.25 522.70 689.55 518.88 690.80 518.50C692.05 518.12 693.50 519.88 694.50 520.30C695.50 520.72 695.87 520.38 696.80 521.00C697.73 521.62 698.93 523.53 700.10 524.00C701.27 524.47 702.72 523.60 703.80 523.80C704.88 524.00 705.75 524.70 706.60 525.20C707.45 525.70 707.82 526.33 708.90 526.80C709.98 527.27 711.97 527.27 713.10 528.00C714.23 528.73 714.92 531.05 715.70 531.20C716.48 531.35 717.23 529.52 717.80 528.90C718.37 528.28 718.88 527.73 719.10 527.50" stroke="#1a1aff" stroke-width="1.45" fill="none" stroke-linejoin="round" clip-path="url(#clipd)"/>
<path d="M421.00 550.30C421.62 550.35 423.77 550.68 424.70 550.60C425.63 550.52 425.97 550.87 426.60 549.80C427.23 548.73 427.80 545.90 428.50 544.20C429.20 542.50 429.88 539.98 430.80 539.60C431.72 539.22 432.77 540.97 434.00 541.90C435.23 542.83 437.10 545.05 438.20 545.20C439.30 545.35 439.82 543.97 440.60 542.80C441.38 541.63 442.28 540.50 442.90 538.20C443.52 535.90 443.75 533.42 444.30 529.00C444.85 524.58 445.53 516.13 446.20 511.70C446.87 507.27 447.68 503.62 448.30 502.40C448.92 501.18 449.32 503.97 449.90 504.40C450.48 504.83 451.18 504.10 451.80 505.00C452.42 505.90 452.92 507.45 453.60 509.80C454.28 512.15 455.20 515.57 455.90 519.10C456.60 522.63 457.10 529.08 457.80 531.00C458.50 532.92 459.32 530.18 460.10 530.60C460.88 531.02 461.87 533.10 462.50 533.50C463.13 533.90 463.43 534.15 463.90 533.00C464.37 531.85 464.83 530.30 465.30 526.60C465.77 522.90 466.32 515.00 466.70 510.80C467.08 506.60 467.22 503.27 467.60 501.40C467.98 499.53 468.53 500.37 469.00 499.60C469.47 498.83 470.02 498.20 470.40 496.80C470.78 495.40 471.02 494.00 471.30 491.20C471.58 488.40 471.73 491.87 472.10 480.00C472.47 468.13 472.98 436.63 473.50 420.00C474.02 403.37 474.50 383.27 475.20 380.20C475.90 377.13 476.90 391.25 477.70 401.60C478.50 411.95 479.38 433.65 480.00 442.30C480.62 450.95 480.93 452.42 481.40 453.50C481.87 454.58 482.33 452.07 482.80 448.80C483.27 445.53 483.65 437.32 484.20 433.90C484.75 430.48 485.55 429.35 486.10 428.30C486.65 427.25 486.95 427.37 487.50 427.60C488.05 427.83 488.78 430.02 489.40 429.70C490.02 429.38 490.50 426.87 491.20 425.70C491.90 424.53 492.82 422.73 493.60 422.70C494.38 422.67 495.13 425.27 495.90 425.50C496.67 425.73 497.35 424.18 498.20 424.10C499.05 424.02 500.22 424.88 501.00 425.00C501.78 425.12 502.12 424.25 502.90 424.80C503.68 425.35 504.77 427.02 505.70 428.30C506.63 429.58 507.65 431.80 508.50 432.50C509.35 433.20 510.10 431.95 510.80 432.50C511.50 433.05 512.08 434.17 512.70 435.80C513.32 437.43 513.82 440.60 514.50 442.30C515.18 444.00 515.88 445.27 516.80 446.00C517.72 446.73 518.75 446.90 520.00 446.70C521.25 446.50 523.05 444.45 524.30 444.80C525.55 445.15 526.67 448.22 527.50 448.80C528.33 449.38 528.27 447.00 529.30 448.30C530.33 449.60 532.35 453.97 533.70 456.60C535.05 459.23 536.17 462.43 537.40 464.10C538.63 465.77 539.87 466.40 541.10 466.60C542.33 466.80 543.65 465.62 544.80 465.30C545.95 464.98 546.85 464.42 548.00 464.70C549.15 464.98 550.27 467.20 551.70 467.00C553.13 466.80 555.25 463.98 556.60 463.50C557.95 463.02 558.55 464.62 559.80 464.10C561.05 463.58 562.97 460.92 564.10 460.40C565.23 459.88 565.67 461.42 566.60 461.00C567.53 460.58 568.57 458.98 569.70 457.90C570.83 456.82 572.27 454.82 573.40 454.50C574.53 454.18 575.25 456.42 576.50 456.00C577.75 455.58 579.65 452.72 580.90 452.00C582.15 451.28 583.18 451.33 584.00 451.70C584.82 452.07 585.12 452.97 585.80 454.20C586.48 455.43 587.37 459.00 588.10 459.10C588.83 459.20 589.23 455.90 590.20 454.80C591.17 453.70 592.77 452.77 593.90 452.50C595.03 452.23 595.98 452.92 597.00 453.20C598.02 453.48 598.98 454.18 600.00 454.20C601.02 454.22 601.97 453.42 603.10 453.30C604.23 453.18 605.47 454.08 606.80 453.50C608.13 452.92 609.75 450.58 611.10 449.80C612.45 449.02 613.75 449.25 614.90 448.80C616.05 448.35 616.97 447.38 618.00 447.10C619.03 446.82 619.97 447.78 621.10 447.10C622.23 446.42 623.77 443.48 624.80 443.00C625.83 442.52 626.37 443.10 627.30 444.20C628.23 445.30 629.15 448.92 630.40 449.60C631.65 450.28 633.67 448.98 634.80 448.30C635.93 447.62 636.42 446.43 637.20 445.50C637.98 444.57 638.83 442.82 639.50 442.70C640.17 442.58 640.65 443.87 641.20 444.80C641.75 445.73 642.12 447.98 642.80 448.30C643.48 448.62 644.47 446.45 645.30 446.70C646.13 446.95 646.87 448.03 647.80 449.80C648.73 451.57 649.77 455.23 650.90 457.30C652.03 459.37 653.25 460.65 654.60 462.20C655.95 463.75 657.63 466.00 659.00 466.60C660.37 467.20 661.93 465.77 662.80 465.80C663.67 465.83 663.58 465.87 664.20 466.80C664.82 467.73 665.48 469.77 666.50 471.40C667.52 473.03 669.05 475.43 670.30 476.60C671.55 477.77 672.68 477.63 674.00 478.40C675.32 479.17 676.97 481.03 678.20 481.20C679.43 481.37 680.47 479.50 681.40 479.40C682.33 479.30 682.87 480.72 683.80 480.60C684.73 480.48 685.83 478.67 687.00 478.70C688.17 478.73 689.55 480.62 690.80 480.80C692.05 480.98 693.12 479.97 694.50 479.80C695.88 479.63 697.70 480.13 699.10 479.80C700.50 479.47 701.73 477.87 702.90 477.80C704.07 477.73 705.02 479.50 706.10 479.40C707.18 479.30 708.23 477.43 709.40 477.20C710.57 476.97 711.48 478.00 713.10 478.00C714.72 478.00 718.10 477.33 719.10 477.20" stroke="#1a1a1a" stroke-width="1.45" fill="none" stroke-linejoin="round" clip-path="url(#clipd)"/>
<path d="M421.00 559.10C421.78 558.80 424.15 557.83 425.70 557.30C427.25 556.77 428.92 556.13 430.30 555.90C431.68 555.67 432.75 555.60 434.00 555.90C435.25 556.20 436.70 557.32 437.80 557.70C438.90 558.08 439.67 558.50 440.60 558.20C441.53 557.90 442.40 556.75 443.40 555.90C444.40 555.05 445.67 553.33 446.60 553.10C447.53 552.87 447.98 553.98 449.00 554.50C450.02 555.02 451.47 555.67 452.70 556.20C453.93 556.73 455.17 557.22 456.40 557.70C457.63 558.18 459.02 559.17 460.10 559.10C461.18 559.03 462.20 558.68 462.90 557.30C463.60 555.92 463.83 553.92 464.30 550.80C464.77 547.68 465.30 542.07 465.70 538.60C466.10 535.13 466.38 532.62 466.70 530.00C467.02 527.38 467.13 524.40 467.60 522.90C468.07 521.40 468.95 521.93 469.50 521.00C470.05 520.07 470.52 521.03 470.90 517.30C471.28 513.57 471.57 504.82 471.80 498.60C472.03 492.38 471.97 494.00 472.30 480.00C472.63 466.00 473.28 429.53 473.80 414.60C474.32 399.67 474.83 392.57 475.40 390.40C475.97 388.23 476.67 397.57 477.20 401.60C477.73 405.63 478.20 407.82 478.60 414.60C479.00 421.38 479.17 434.42 479.60 442.30C480.03 450.18 480.67 459.73 481.20 461.90C481.73 464.07 482.30 458.88 482.80 455.30C483.30 451.72 483.65 443.88 484.20 440.40C484.75 436.92 485.47 435.17 486.10 434.40C486.73 433.63 487.30 434.98 488.00 435.80C488.70 436.62 489.53 439.07 490.30 439.30C491.07 439.53 491.83 437.72 492.60 437.20C493.37 436.68 494.28 436.60 494.90 436.20C495.52 435.80 495.75 435.62 496.30 434.80C496.85 433.98 497.42 431.45 498.20 431.30C498.98 431.15 500.07 433.00 501.00 433.90C501.93 434.80 502.87 435.77 503.80 436.70C504.73 437.63 505.67 438.57 506.60 439.50C507.53 440.43 508.47 441.53 509.40 442.30C510.33 443.07 511.27 442.55 512.20 444.10C513.13 445.65 513.95 449.58 515.00 451.60C516.05 453.62 517.30 454.88 518.50 456.20C519.70 457.52 521.12 459.48 522.20 459.50C523.28 459.52 524.12 456.47 525.00 456.30C525.88 456.13 526.78 458.33 527.50 458.50C528.22 458.67 528.27 455.43 529.30 457.30C530.33 459.17 532.35 467.02 533.70 469.70C535.05 472.38 536.17 472.00 537.40 473.40C538.63 474.80 539.87 477.43 541.10 478.10C542.33 478.77 543.45 477.87 544.80 477.40C546.15 476.93 547.95 475.30 549.20 475.30C550.45 475.30 551.07 477.50 552.30 477.40C553.53 477.30 555.25 475.15 556.60 474.70C557.95 474.25 559.15 475.33 560.40 474.70C561.65 474.07 562.97 471.42 564.10 470.90C565.23 470.38 566.07 472.02 567.20 471.60C568.33 471.18 569.87 469.65 570.90 468.40C571.93 467.15 572.37 464.40 573.40 464.10C574.43 463.80 575.75 466.80 577.10 466.60C578.45 466.40 580.25 463.42 581.50 462.90C582.75 462.38 583.50 462.27 584.60 463.50C585.70 464.73 587.07 469.78 588.10 470.30C589.13 470.82 589.73 467.22 590.80 466.60C591.87 465.98 593.18 466.40 594.50 466.60C595.82 466.80 597.17 467.53 598.70 467.80C600.23 468.07 602.25 467.88 603.70 468.20C605.15 468.52 606.05 470.18 607.40 469.70C608.75 469.22 610.35 465.97 611.80 465.30C613.25 464.63 614.55 465.75 616.10 465.70C617.65 465.65 619.55 465.75 621.10 465.00C622.65 464.25 624.27 461.55 625.40 461.20C626.53 460.85 627.07 461.90 627.90 462.90C628.73 463.90 629.47 466.58 630.40 467.20C631.33 467.82 632.57 466.50 633.50 466.60C634.43 466.70 634.97 468.42 636.00 467.80C637.03 467.18 638.77 463.10 639.70 462.90C640.63 462.70 640.98 465.37 641.60 466.60C642.22 467.83 642.68 470.15 643.40 470.30C644.12 470.45 644.97 467.18 645.90 467.50C646.83 467.82 647.97 470.48 649.00 472.20C650.03 473.92 650.95 476.60 652.10 477.80C653.25 479.00 654.55 478.63 655.90 479.40C657.25 480.17 659.05 481.63 660.20 482.40C661.35 483.17 661.98 483.80 662.80 484.00C663.62 484.20 664.40 483.13 665.10 483.60C665.80 484.07 666.22 485.42 667.00 486.80C667.78 488.18 668.80 490.82 669.80 491.90C670.80 492.98 672.00 492.98 673.00 493.30C674.00 493.62 674.87 493.40 675.80 493.80C676.73 494.20 677.58 495.42 678.60 495.70C679.62 495.98 680.80 495.35 681.90 495.50C683.00 495.65 684.03 496.42 685.20 496.60C686.37 496.78 687.97 496.57 688.90 496.60C689.83 496.63 689.87 496.95 690.80 496.80C691.73 496.65 693.42 495.73 694.50 495.70C695.58 495.67 696.07 496.63 697.30 496.60C698.53 496.57 700.50 495.58 701.90 495.50C703.30 495.42 704.45 496.15 705.70 496.10C706.95 496.05 708.17 494.97 709.40 495.20C710.63 495.43 711.87 497.18 713.10 497.50C714.33 497.82 715.80 497.33 716.80 497.10C717.80 496.87 718.72 496.27 719.10 496.10" stroke="#ff1a1a" stroke-width="1.45" fill="none" stroke-linejoin="round" clip-path="url(#clipd)"/>
<path d="M454.12 580.20v-2.6M454.12 339.35v2.6M487.24 580.20v-5M487.24 339.35v5M520.37 580.20v-2.6M520.37 339.35v2.6M553.49 580.20v-5M553.49 339.35v5M586.61 580.20v-2.6M586.61 339.35v2.6M619.73 580.20v-5M619.73 339.35v5M652.86 580.20v-2.6M652.86 339.35v2.6M685.98 580.20v-5M685.98 339.35v5M421.00 550.09h5M719.10 550.09h-5M421.00 499.92h5M719.10 499.92h-5M421.00 449.74h5M719.10 449.74h-5M421.00 399.56h5M719.10 399.56h-5M421.00 349.39h5M719.10 349.39h-5M421.00 575.18h2.6M719.10 575.18h-2.6M421.00 525.01h2.6M719.10 525.01h-2.6M421.00 474.83h2.6M719.10 474.83h-2.6M421.00 424.65h2.6M719.10 424.65h-2.6M421.00 374.47h2.6M719.10 374.47h-2.6" stroke="#262626" stroke-width="1" fill="none"/>
<rect x="421.00" y="339.70" width="298.10" height="240.50" stroke="#262626" stroke-width="1.3" fill="none"/>
<text class="tk" style="font-size:10.35px" x="421.00" y="594.00" text-anchor="middle">280</text>
<text class="tk" style="font-size:10.35px" x="487.24" y="594.00" text-anchor="middle">290</text>
<text class="tk" style="font-size:10.35px" x="553.49" y="594.00" text-anchor="middle">300</text>
<text class="tk" style="font-size:10.35px" x="619.73" y="594.00" text-anchor="middle">310</text>
<text class="tk" style="font-size:10.35px" x="685.98" y="594.00" text-anchor="middle">320</text>
<text class="tk" style="font-size:10.35px" x="415.50" y="553.29" text-anchor="end">0.05</text>
<text class="tk" style="font-size:10.35px" x="415.50" y="503.12" text-anchor="end">0.10</text>
<text class="tk" style="font-size:10.35px" x="415.50" y="452.94" text-anchor="end">0.15</text>
<text class="tk" style="font-size:10.35px" x="415.50" y="402.76" text-anchor="end">0.20</text>
<text class="tk" style="font-size:10.35px" x="415.50" y="352.59" text-anchor="end">0.25</text>
<text class="ti" style="font-size:12.3px" x="514.40" y="612.70" xml:space="preserve">Photon Energy  (eV)</text>
<text class="ti" style="font-size:12.3px" transform="translate(382.10 454.10) rotate(-90)" text-anchor="middle" xml:space="preserve">Signal  (arbitrary units)</text>
<text class="cap" x="561.30" y="640.80" text-anchor="middle">(d)</text>
<rect x="574.20" y="360.50" width="121.30" height="51.10" fill="#fff" stroke="#8c8c8c" stroke-width="1.3"/>
<path d="M575.20 369.50H603.80" stroke="#1a1aff" stroke-width="1.45"/>
<text class="lg" style="font-size:12.25px" x="606.70" y="373.70">Not ionized CH<tspan class="sb" dx="1.8" dy="4">4</tspan></text>
<path d="M575.20 388.50H603.80" stroke="#1a1a1a" stroke-width="1.45"/>
<text class="lg" style="font-size:12.25px" x="606.70" y="392.70">D = 2 mm</text>
<path d="M575.20 403.50H603.80" stroke="#ff1a1a" stroke-width="1.45"/>
<text class="lg" style="font-size:12.25px" x="606.70" y="407.70">D = 6 mm</text>
</svg></body></html>
